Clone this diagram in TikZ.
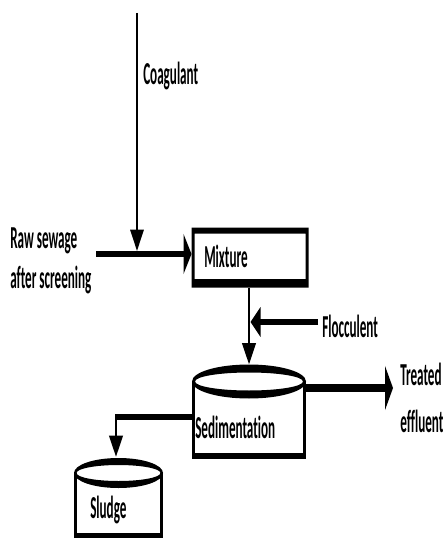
\documentclass[tikz,border=0pt]{standalone}
\usepackage{fontspec}
\newfontfamily\lblfont[FakeStretch=0.41,Ligatures={NoCommon}]{Carlito}
\usetikzlibrary{arrows.meta}

\begin{document}
\begin{tikzpicture}[x=0.75pt,y=-0.75pt,
  lbl/.style={anchor=base west,inner sep=0pt,font=\lblfont\bfseries\fontsize{24}{26}\selectfont},
  vtip/.style={-{Triangle[length=16pt,width=10pt]}},
  htip/.style={-{Triangle[length=6pt,width=30pt]}}]
\useasboundingbox (0,0) rectangle (442,538);
% mixing tank
\coordinate (MA) at (191.5,227.5); \coordinate (MB) at (308.5,287.5);
\coordinate (Ma) at (194.5,233.5); \coordinate (Mb) at (305.5,279);
\fill[even odd rule] (MA) rectangle (MB) (Ma) rectangle (Mb);
% sedimentation tank
\coordinate (S) at (249,381.5);
\fill[even odd rule] (S) ellipse [x radius=57,y radius=17] (S) ellipse [x radius=54,y radius=9];
\draw[line width=2.2pt] (193.5,381.5) -- (193.5,456) (304.5,381.5) -- (304.5,456);
\draw[line width=4.5pt] (192,456) -- (306,456);
% sludge tank
\coordinate (D) at (118.5,473);
\fill[even odd rule] (D) ellipse [x radius=44.5,y radius=15] (D) ellipse [x radius=42,y radius=8];
\draw[line width=2.2pt] (75.5,473) -- (75.5,536) (161.5,473) -- (161.5,536);
\draw[line width=4.5pt] (74,536) -- (163,536);
% flows
\coordinate (C0) at (137,13); \coordinate (C1) at (137,251);
\coordinate (R0) at (96,254); \coordinate (R1) at (191.5,254);
\coordinate (X0) at (249,287.5); \coordinate (X1) at (249,364.5);
\coordinate (F0) at (318,322); \coordinate (F1) at (250.5,322);
\coordinate (T0) at (306,388); \coordinate (T1) at (393,388);
\coordinate (L0) at (192,417); \coordinate (L1) at (116,417); \coordinate (L2) at (116,457);
\draw[line width=1.5pt,vtip] (C0) -- (C1);
\draw[line width=5pt,htip] (R0) -- (R1);
\draw[line width=2pt,vtip] (X0) -- (X1);
\draw[line width=5pt,-{Triangle[length=7.5pt,width=22pt]}] (F0) -- (F1);
\draw[line width=5.5pt,-{Triangle[length=6pt,width=33pt]}] (T0) -- (T1);
\draw[line width=5pt] (L0) -- ([xshift=-1pt]L1);
\draw[line width=2.2pt,vtip] (L1) -- (L2);
% labels
\foreach \n/\x/\y/\t in {coag/143/85/Coagulant, raw/10/248/Raw sewage, scr/10/288/after screening,
  mix/204/267/Mixture, floc/322/337/Flocculent, trt/400/385/Treated, eff/400/432/effluent,
  sed/195/438/Sedimentation, slu/90/518/Sludge}{\node[lbl] (\n) at (\x,\y) {\t};}
\end{tikzpicture}
\end{document}
